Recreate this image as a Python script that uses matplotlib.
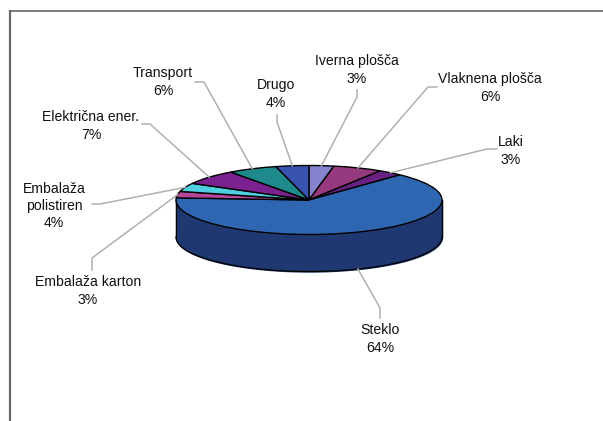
# -*- coding: utf-8 -*-
# 3D looking pie of shares per material, drawn flat and squashed
import numpy as np
import matplotlib.pyplot as plt

plt.rcParams['font.family'] = ['Liberation Sans', 'DejaVu Sans']

labels = ["Iverna plošča\n3%", "Vlaknena plošča\n6%", "Laki\n3%", "Steklo\n64%",
          "Embalaža karton\n3%", "Embalaža\npolistiren\n4%", "Električna ener.\n7%",
          "Transport\n6%", "Drugo\n4%"]
values = [3, 6, 3, 64, 3, 4, 7, 6, 4]
colors = ["#8484cf", "#96397f", "#682083", "#2f66b2", "#b5479b",
          "#4fcfe0", "#7b2290", "#1e8a8c", "#3853ae"]
side_color = "#1f3871"
frame_color = "#666666"
line_color = "#b0b0b0"

# label centres in image pixels
label_x = [357, 490, 511, 380, 88, 54, 91, 163, 276]
label_y = [70, 88, 151, 339, 291, 206, 126, 82, 94]

# leader lines: free end and elbow, in image pixels
line_start = [(357, 90), (437, 87), (497, 149), (380, 318), (92, 270),
              (92, 204), (142, 124), (195, 82), (277, 115)]
line_elbow = [(357, 97), (428, 87), (487, 149), (380, 308), (92, 258),
              (100, 204), (150, 124), (204, 82), (277, 122)]

W, H = 603, 421
cx, cy = 309, 200      # pie centre in pixels
rx, ry = 133, 34.5     # radii of the ellipse in pixels
depth = 37 / ry        # height of the side wall, in y units


def to_data(p):
    return (p[0] - cx) / rx, (cy - p[1]) / ry


fig = plt.figure(figsize=(W / 100, H / 100), dpi=100)
ax = fig.add_axes([0, 0, 1, 1])

# pie angles clockwise from the top
edges = np.cumsum([0] + values) / sum(values) * 2 * np.pi
mids = (edges[:-1] + edges[1:]) / 2

# side wall, only the front half shows
t = np.linspace(np.pi / 2, 3 * np.pi / 2, 200)
ax.fill_between(np.sin(t), np.cos(t), np.cos(t) - depth, color=side_color, zorder=1)
ax.plot(np.sin(t), np.cos(t) - depth, color="black", lw=0.9, zorder=2)
ax.plot([1, 1], [0, -depth], color="black", lw=0.9, zorder=2)
ax.plot([-1, -1], [0, -depth], color="black", lw=0.9, zorder=2)

ax.pie(values, colors=colors, startangle=90, counterclock=False, radius=1,
       wedgeprops=dict(edgecolor="black", linewidth=1.0, zorder=3))

ax.set_aspect('auto')
ax.set_xlim(-cx / rx, (W - cx) / rx)
ax.set_ylim((cy - H) / ry, cy / ry)
ax.axis('off')

for name, m, lx, ly, s, e in zip(labels, mids, label_x, label_y, line_start, line_elbow):
    px = np.sin(m)
    py = np.cos(m)
    # the front wedge takes its line from the bottom of the wall
    if np.cos(m) < 0:
        py = py - depth
    sx, sy = to_data(s)
    ex, ey = to_data(e)
    ax.plot([sx, ex, px], [sy, ey, py], color=line_color, lw=1.1, zorder=4)
    ax.text(*to_data((lx, ly)), name, ha='center', va='center', fontsize=10.1,
            color="#111111", linespacing=1.28, zorder=5)

# scanned frame, only left and top sides
ax.plot([9.5 / W, 9.5 / W], [0, 1 - 11 / H], color=frame_color, lw=1.6,
        transform=fig.transFigure, clip_on=False)
ax.plot([9.5 / W, 1], [1 - 11 / H, 1 - 11 / H], color=frame_color, lw=1.2,
        transform=fig.transFigure, clip_on=False)

fig.savefig("out.png", dpi=100)
